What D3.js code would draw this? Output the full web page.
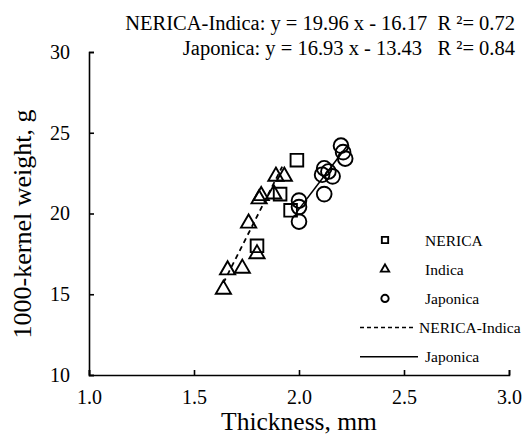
<!DOCTYPE html>
<html>
<head>
<meta charset="utf-8">
<script src="https://cdn.jsdelivr.net/npm/d3@7"></script>
<style>
  body { margin: 0; background: #fff; }
  svg text { font-family: "Liberation Serif", "Times New Roman", serif; fill: #000; white-space: pre; }
</style>
</head>
<body>
<div id="chart"></div>
<script>
// thickness (mm) and 1000-kernel weight (g)
const nericaX = [1.99, 1.91, 1.96, 1.80];
const nericaY = [23.3, 21.2, 20.2, 18.0];

const indicaX = [1.64, 1.66, 1.73, 1.80, 1.76, 1.81, 1.82, 1.88, 1.89, 1.93];
const indicaY = [15.3, 16.5, 16.6, 17.5, 19.4, 20.9, 21.1, 21.2, 22.3, 22.3];

const japonicaX = [2.20, 2.21, 2.22, 2.12, 2.11, 2.14, 2.16, 2.12, 2.00, 2.00, 2.00];
const japonicaY = [24.2, 23.8, 23.4, 22.8, 22.4, 22.6, 22.3, 21.2, 20.8, 20.4, 19.5];

// trend lines as drawn in the picture (end points)
const nericaIndicaLineX = [1.64, 1.92];
const nericaIndicaLineY = [15.7, 22.9];
const japonicaLineX = [1.99, 2.23];
const japonicaLineY = [20.1, 24.2];

const xTicks = [1.0, 1.5, 2.0, 2.5, 3.0];
const yTicks = [10, 15, 20, 25, 30];
const equations = [
  "NERICA-Indica: y = 19.96 x - 16.17  R \u00b2= 0.72",
  "Japonica: y = 16.93 x - 13.43   R \u00b2= 0.84"
];

const W = 532, H = 436;
const plotLeft = 89, plotRight = 509, plotTop = 52, plotBottom = 375;
const serif = "Liberation Serif";

const svg = d3.select("#chart").append("svg").attr("width", W).attr("height", H);

const x = d3.scaleLinear().domain([1, 3]).range([plotLeft, plotRight]);
const y = d3.scaleLinear().domain([10, 30]).range([plotBottom, plotTop]);

// axes with inward ticks
const xAxis = svg.append("g")
  .attr("transform", "translate(0," + plotBottom + ")")
  .call(d3.axisBottom(x).tickValues(xTicks).tickFormat(d3.format(".1f")).tickSizeInner(-5).tickSizeOuter(-5).tickPadding(12));
const yAxis = svg.append("g")
  .attr("transform", "translate(" + plotLeft + ",0)")
  .call(d3.axisLeft(y).tickValues(yTicks).tickSizeInner(-5).tickSizeOuter(-5).tickPadding(19));

[xAxis, yAxis].forEach(function (a) {
  a.attr("font-family", serif).attr("font-size", 20);
  a.select(".domain").attr("stroke", "#000").attr("stroke-width", 1.6);
  a.selectAll(".tick line").attr("stroke", "#000").attr("stroke-width", 1.6);
  a.selectAll(".tick text").attr("font-family", serif).attr("font-size", 20);
});
xAxis.selectAll(".tick text").attr("dy", "0.85em");

svg.append("text")
  .attr("x", (plotLeft + plotRight) / 2)
  .attr("y", 430)
  .attr("text-anchor", "middle")
  .attr("font-family", serif)
  .attr("font-size", 25.5)
  .text("Thickness, mm");

svg.append("text")
  .attr("transform", "translate(31,224) rotate(-90)")
  .attr("text-anchor", "middle")
  .attr("font-family", serif)
  .attr("font-size", 26)
  .text("1000-kernel weight, g");

// equations
svg.selectAll(".eq")
  .data(equations)
  .enter()
  .append("text")
  .attr("class", "eq")
  .attr("x", 515)
  .attr("y", function (d, i) { return 30 + i * 25; })
  .attr("text-anchor", "end")
  .attr("font-family", serif)
  .attr("font-size", 20.5)
  .attr("xml:space", "preserve")
  .text(function (d) { return d; });

// trend lines
const line = d3.line().x(function (d) { return x(d[0]); }).y(function (d) { return y(d[1]); });
function pairs(xs, ys) { return xs.map(function (v, i) { return [v, ys[i]]; }); }

svg.append("path")
  .attr("d", line(pairs(nericaIndicaLineX, nericaIndicaLineY)))
  .attr("fill", "none").attr("stroke", "#000").attr("stroke-width", 1.8)
  .attr("stroke-dasharray", "5,4");
svg.append("path")
  .attr("d", line(pairs(japonicaLineX, japonicaLineY)))
  .attr("fill", "none").attr("stroke", "#000").attr("stroke-width", 1.6);

// markers
const sym = {
  square: d3.symbol().type(d3.symbolSquare).size(160),
  triangle: d3.symbol().type(d3.symbolTriangle).size(100),
  circle: d3.symbol().type(d3.symbolCircle).size(170)
};

function drawPoints(xs, ys, s) {
  svg.append("g")
    .selectAll("path")
    .data(pairs(xs, ys))
    .enter()
    .append("path")
    .attr("d", s)
    .attr("transform", function (d) { return "translate(" + x(d[0]) + "," + y(d[1]) + ")"; })
    .attr("fill", "none")
    .attr("stroke", "#000")
    .attr("stroke-width", 1.9);
}
drawPoints(japonicaX, japonicaY, sym.circle);
drawPoints(indicaX, indicaY, sym.triangle);
drawPoints(nericaX, nericaY, sym.square);

// legend
const legendItems = [
  { label: "NERICA", kind: "square" },
  { label: "Indica", kind: "triangle" },
  { label: "Japonica", kind: "circle" },
  { label: "NERICA-Indica", kind: "dash" },
  { label: "Japonica", kind: "solid" }
];
const small = {
  square: d3.symbol().type(d3.symbolSquare).size(40),
  triangle: d3.symbol().type(d3.symbolTriangle).size(30),
  circle: d3.symbol().type(d3.symbolCircle).size(42)
};

const legend = svg.append("g")
  .selectAll("g")
  .data(legendItems)
  .enter()
  .append("g")
  .attr("transform", function (d, i) { return "translate(0," + (240 + i * 29.2) + ")"; });

legend.each(function (d) {
  const g = d3.select(this);
  const isLine = d.kind === "dash" || d.kind === "solid";
  if (isLine) {
    g.append("line")
      .attr("x1", 360).attr("x2", d.kind === "dash" ? 415 : 418).attr("y1", 0).attr("y2", 0)
      .attr("stroke", "#000").attr("stroke-width", 1.5)
      .attr("stroke-dasharray", d.kind === "dash" ? "4,3" : null);
  } else {
    g.append("path")
      .attr("d", small[d.kind])
      .attr("transform", "translate(385,0)")
      .attr("fill", "none").attr("stroke", "#000").attr("stroke-width", 1.9);
  }
  g.append("text")
    .attr("x", d.kind === "dash" ? 419 : 425)
    .attr("y", 5.5)
    .attr("font-family", serif)
    .attr("font-size", 15.5)
    .text(d.label);
});
</script>
</body>
</html>
